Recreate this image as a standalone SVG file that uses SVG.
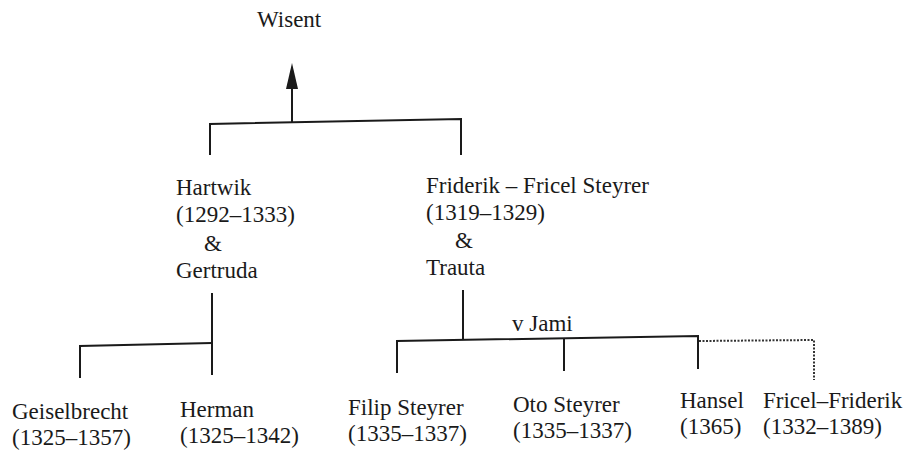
<svg xmlns="http://www.w3.org/2000/svg" width="906" height="450" viewBox="0 0 906 450">
<style>
text{font-family:"Liberation Serif","Times New Roman",serif;font-size:23px;fill:#1a1a1a}
.ln{fill:none;stroke:#1a1a1a;stroke-width:2}
.dot{fill:none;stroke:#333;stroke-width:2;stroke-dasharray:2 1.5}
</style>
<rect width="906" height="450" fill="#fff"/>
<g id="connectors">
<polyline class="ln" points="210,155 210,124 461,119 461,155"/>
<line class="ln" x1="292" y1="122" x2="292" y2="86"/>
<polygon points="286,89 298,89 292,63" fill="#1a1a1a"/>
<polyline class="ln" points="80,378 80,346 212,343"/>
<line class="ln" x1="212" y1="293" x2="212" y2="375"/>
<line class="ln" x1="463" y1="290" x2="463" y2="339"/>
<polyline class="ln" points="397,373 397,341 698,336 698,369"/>
<line class="ln" x1="564" y1="339" x2="564" y2="371"/>
<polyline class="dot" points="699,341 814,340 814,380"/>
</g>
<g id="wisent"><text x="257" y="27">Wisent</text></g>
<g id="hartwik">
<text x="176" y="195">Hartwik</text>
<text x="176" y="222">(1292–1333)</text>
<text x="204" y="251">&amp;</text>
<text x="176" y="278">Gertruda</text>
</g>
<g id="friderik">
<text x="426" y="193">Friderik – Fricel Steyrer</text>
<text x="426" y="220">(1319–1329)</text>
<text x="455" y="248">&amp;</text>
<text x="426" y="275">Trauta</text>
</g>
<g id="vjami"><text x="512" y="331">v Jami</text></g>
<g id="geiselbrecht"><text x="12" y="419">Geiselbrecht</text><text x="12" y="445">(1325–1357)</text></g>
<g id="herman"><text x="180" y="417">Herman</text><text x="180" y="443">(1325–1342)</text></g>
<g id="filip"><text x="348" y="415">Filip Steyrer</text><text x="348" y="441">(1335–1337)</text></g>
<g id="oto"><text x="513" y="412">Oto Steyrer</text><text x="513" y="438">(1335–1337)</text></g>
<g id="hansel"><text x="680" y="408">Hansel</text><text x="680" y="434">(1365)</text></g>
<g id="fricel"><text x="763" y="408">Fricel–Friderik</text><text x="763" y="434">(1332–1389)</text></g>
</svg>
